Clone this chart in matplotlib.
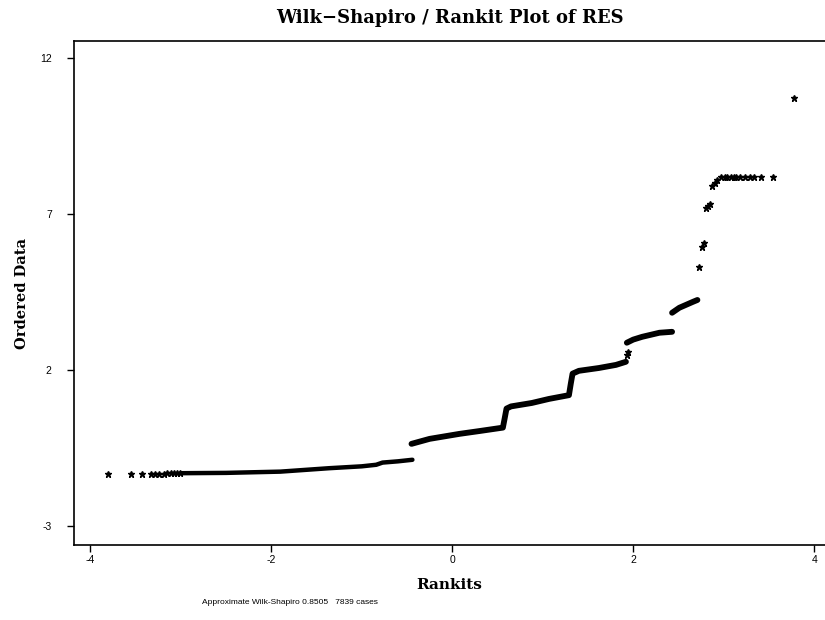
import numpy as np
import matplotlib
matplotlib.use("Agg")
import matplotlib.pyplot as plt

# sparse points in the lower tail (rankit, ordered value)
low_tail_r = [-3.80, -3.55, -3.43, -3.33, -3.28, -3.24, -3.19, -3.15, -3.11, -3.07, -3.04, -3.01]
low_tail_v = [-1.33, -1.33, -1.32, -1.32, -1.32, -1.32, -1.32, -1.31, -1.31, -1.31, -1.31, -1.31]

# dense runs of cases, each one drawn as a continuous band
band_a_r = [-3.0, -2.5, -1.9, -1.36, -1.0, -0.84, -0.77, -0.60, -0.44]
band_a_v = [-1.31, -1.30, -1.26, -1.15, -1.09, -1.04, -0.97, -0.93, -0.88]

band_b_r = [-0.45, -0.25, 0.08, 0.30, 0.56, 0.58, 0.60, 0.65, 0.88, 1.07, 1.29, 1.31, 1.33, 1.40, 1.62, 1.81, 1.92]
band_b_v = [-0.37, -0.21, -0.05, 0.04, 0.15, 0.45, 0.76, 0.83, 0.94, 1.07, 1.19, 1.55, 1.88, 1.97, 2.06, 2.16, 2.26]

band_c_r = [1.93, 2.00, 2.10, 2.29, 2.43]
band_c_v = [2.87, 2.97, 3.06, 3.19, 3.22]

band_d_r = [2.43, 2.51, 2.66, 2.71]
band_d_v = [3.83, 3.99, 4.18, 4.24]

# sparse points in the upper tail
up_tail_r = [1.93, 1.94, 2.73, 2.76, 2.78, 2.81, 2.83, 2.85, 2.87, 2.90, 2.93, 2.97, 3.01, 3.04,
             3.08, 3.11, 3.14, 3.18, 3.24, 3.29, 3.34, 3.41, 3.55, 3.78]
up_tail_v = [2.48, 2.58, 5.30, 5.94, 6.07, 7.19, 7.25, 7.32, 7.90, 8.00, 8.09, 8.17, 8.19, 8.19,
             8.19, 8.19, 8.19, 8.19, 8.19, 8.19, 8.19, 8.19, 8.19, 10.72]

xticks = [-4, -2, 0, 2, 4]
yticks = [-3, 2, 7, 12]

serif = "DejaVu Serif"
sans = "Liberation Sans"

fig = plt.figure(figsize=(8.25, 6.2), dpi=100)
ax = fig.add_axes([0.0897, 0.121, 0.9103, 0.813])

ax.plot(band_a_r, band_a_v, color="black", lw=3.2, solid_capstyle="round", solid_joinstyle="round")
for r, v in [(band_b_r, band_b_v), (band_c_r, band_c_v), (band_d_r, band_d_v)]:
    ax.plot(r, v, color="black", lw=4.2, solid_capstyle="round", solid_joinstyle="round")
ax.plot(low_tail_r, low_tail_v, ls="none", marker="*", ms=5, color="black")
ax.plot(up_tail_r, up_tail_v, ls="none", marker="*", ms=5, color="black")

ax.set_xlim(-4.18, 4.12)
ax.set_ylim(-3.61, 12.54)
ax.set_xticks(xticks)
ax.set_yticks(yticks)
ax.set_xticklabels([str(t) for t in xticks], fontsize=7.5, family=sans)
ax.set_yticklabels([str(t) for t in yticks], fontsize=7.5, family=sans)
ax.tick_params(direction="out", length=5, width=1)
ax.tick_params(axis="x", pad=2)
ax.tick_params(axis="y", pad=11)

for s in ["left", "bottom", "top"]:
    ax.spines[s].set_linewidth(1.2)
ax.spines["right"].set_visible(False)

fig.text(0.545, 0.971, "Wilk\u2212Shapiro / Rankit Plot of RES", ha="center", va="center",
         fontsize=13, family=serif, fontweight="bold")
fig.text(0.545, 0.056, "Rankits", ha="center", va="center", fontsize=11, family=serif, fontweight="bold")
fig.text(0.027, 0.527, "Ordered Data", ha="center", va="center", rotation=90,
         fontsize=10.5, family=serif, fontweight="bold")
fig.text(0.352, 0.029, "Approximate Wilk-Shapiro 0.8505   7839 cases", ha="center", va="center",
         fontsize=6, family=sans)

fig.savefig("out.png", dpi=100)
